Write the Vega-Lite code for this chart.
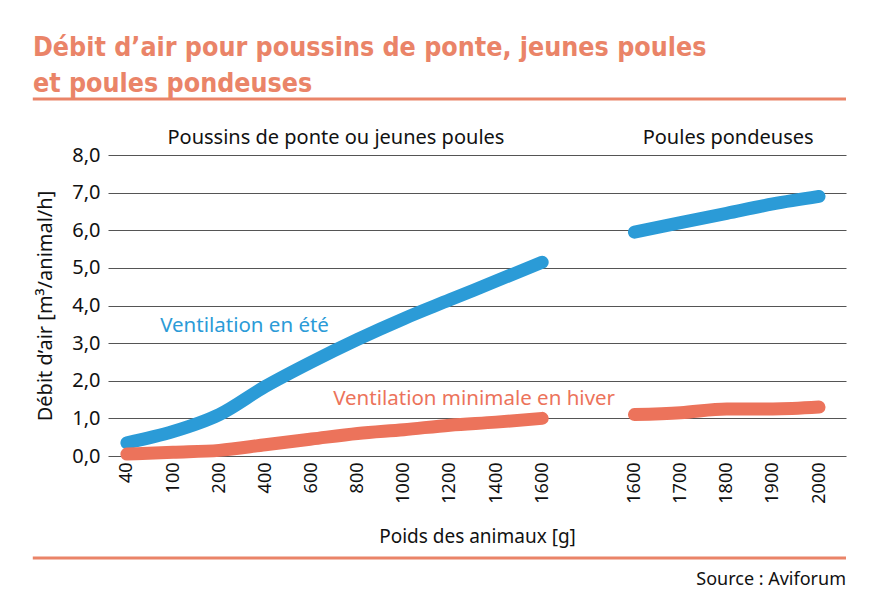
{
  "$schema": "https://vega.github.io/schema/vega-lite/v6.json",
  "autosize": {"type": "none"},
  "padding": {"left": 108, "top": 155, "right": 34, "bottom": 152},
  "width": 738,
  "height": 301,
  "background": "white",
  "config": {"view": {"stroke": null}, "font": "Noto Sans", "axisY": {"labelOverlap": false}},
  "title": {
    "text": ["Débit d’air pour poussins de ponte, jeunes poules", "et poules pondeuses"],
    "anchor": "start",
    "frame": "group",
    "orient": "top",
    "dx": -75,
    "offset": 0,
    "font": "DejaVu Sans Condensed",
    "fontWeight": "bold",
    "fontSize": 26.6,
    "lineHeight": 36,
    "color": "#ea8468"
  },
  "datasets": {
    "lines": [
      {"serie": "ete", "segment": "ete1", "pos": 0, "poids": "40", "debit": 0.35},
      {"serie": "ete", "segment": "ete1", "pos": 1, "poids": "100", "debit": 0.65},
      {"serie": "ete", "segment": "ete1", "pos": 2, "poids": "200", "debit": 1.1},
      {"serie": "ete", "segment": "ete1", "pos": 3, "poids": "400", "debit": 1.85},
      {"serie": "ete", "segment": "ete1", "pos": 4, "poids": "600", "debit": 2.5},
      {"serie": "ete", "segment": "ete1", "pos": 5, "poids": "800", "debit": 3.1},
      {"serie": "ete", "segment": "ete1", "pos": 6, "poids": "1000", "debit": 3.65},
      {"serie": "ete", "segment": "ete1", "pos": 7, "poids": "1200", "debit": 4.15},
      {"serie": "ete", "segment": "ete1", "pos": 8, "poids": "1400", "debit": 4.65},
      {"serie": "ete", "segment": "ete1", "pos": 9, "poids": "1600", "debit": 5.15},
      {"serie": "ete", "segment": "ete2", "pos": 11, "poids": "1600", "debit": 5.95},
      {"serie": "ete", "segment": "ete2", "pos": 12, "poids": "1700", "debit": 6.2},
      {"serie": "ete", "segment": "ete2", "pos": 13, "poids": "1800", "debit": 6.45},
      {"serie": "ete", "segment": "ete2", "pos": 14, "poids": "1900", "debit": 6.7},
      {"serie": "ete", "segment": "ete2", "pos": 15, "poids": "2000", "debit": 6.9},
      {"serie": "hiver", "segment": "hiver1", "pos": 0, "poids": "40", "debit": 0.05},
      {"serie": "hiver", "segment": "hiver1", "pos": 1, "poids": "100", "debit": 0.1},
      {"serie": "hiver", "segment": "hiver1", "pos": 2, "poids": "200", "debit": 0.15},
      {"serie": "hiver", "segment": "hiver1", "pos": 3, "poids": "400", "debit": 0.3},
      {"serie": "hiver", "segment": "hiver1", "pos": 4, "poids": "600", "debit": 0.45},
      {"serie": "hiver", "segment": "hiver1", "pos": 5, "poids": "800", "debit": 0.6},
      {"serie": "hiver", "segment": "hiver1", "pos": 6, "poids": "1000", "debit": 0.7},
      {"serie": "hiver", "segment": "hiver1", "pos": 7, "poids": "1200", "debit": 0.82},
      {"serie": "hiver", "segment": "hiver1", "pos": 8, "poids": "1400", "debit": 0.9},
      {"serie": "hiver", "segment": "hiver1", "pos": 9, "poids": "1600", "debit": 1.0},
      {"serie": "hiver", "segment": "hiver2", "pos": 11, "poids": "1600", "debit": 1.1},
      {"serie": "hiver", "segment": "hiver2", "pos": 12, "poids": "1700", "debit": 1.15},
      {"serie": "hiver", "segment": "hiver2", "pos": 13, "poids": "1800", "debit": 1.25},
      {"serie": "hiver", "segment": "hiver2", "pos": 14, "poids": "1900", "debit": 1.25},
      {"serie": "hiver", "segment": "hiver2", "pos": 15, "poids": "2000", "debit": 1.3}
    ],
    "labels": [
      {"texte": "Ventilation en été", "pos": 0.72, "debit": 3.46, "couleur": "ete"},
      {"texte": "Ventilation minimale en hiver", "pos": 4.47, "debit": 1.52, "couleur": "hiver"}
    ],
    "groupes": [
      {"texte": "Poussins de ponte ou jeunes poules", "pos": 4.53, "debit": 8.46},
      {"texte": "Poules pondeuses", "pos": 13.03, "debit": 8.46}
    ],
    "source": [
      {"texte": "Source : Aviforum", "pos": 15.585, "debit": -3.3}
    ],
    "regles": [
      {"debit": 9.49, "pos": -2.04, "pos2": 15.585},
      {"debit": -2.71, "pos": -2.04, "pos2": 15.585}
    ]
  },
  "encoding": {
    "x": {
      "field": "pos", "type": "quantitative",
      "scale": {"domain": [-0.41, 15.585], "nice": false, "zero": false},
      "axis": {
        "values": [0, 1, 2, 3, 4, 5, 6, 7, 8, 9, 11, 12, 13, 14, 15],
        "labelExpr": "['40','100','200','400','600','800','1000','1200','1400','1600','','1600','1700','1800','1900','2000'][datum.value]",
        "labelAngle": -90,
        "labelFontSize": 18,
        "labelColor": "#111",
        "labelPadding": 6,
        "labelOverlap": false,
        "grid": false,
        "ticks": false,
        "domain": false,
        "title": "Poids des animaux [g]",
        "titleFontSize": 19,
        "titleFontWeight": "normal",
        "titleColor": "#111",
        "titlePadding": 24
      }
    },
    "y": {
      "field": "debit", "type": "quantitative",
      "scale": {"domain": [0, 8], "nice": false},
      "axis": {
        "values": [0, 1, 2, 3, 4, 5, 6, 7, 8],
        "labelExpr": "replace(format(datum.value, '.1f'), '.', ',')",
        "labelFontSize": 20,
        "labelColor": "#111",
        "labelPadding": 8,
        "labelOverlap": false,
        "grid": true,
        "gridColor": "#555",
        "gridWidth": 1,
        "gridOpacity": 1,
        "ticks": false,
        "domain": false,
        "title": "Débit d’air [m³/animal/h]",
        "titleFontSize": 20,
        "titleFontWeight": "normal",
        "titleColor": "#111",
        "titlePadding": 16
      }
    }
  },
  "layer": [
    {
      "data": {"name": "lines"},
      "mark": {"type": "line", "strokeWidth": 13, "strokeCap": "round", "strokeJoin": "round", "interpolate": "monotone", "clip": false},
      "encoding": {
        "color": {"field": "serie", "type": "nominal", "scale": {"domain": ["ete", "hiver"], "range": ["#2b9bd7", "#ec735b"]}, "legend": null},
        "detail": {"field": "segment"}
      }
    },
    {
      "data": {"name": "labels"},
      "mark": {"type": "text", "align": "left", "baseline": "middle", "fontSize": 20.5, "font": "Noto Sans"},
      "encoding": {
        "text": {"field": "texte"},
        "color": {"field": "couleur", "type": "nominal", "scale": {"domain": ["ete", "hiver"], "range": ["#2b9bd7", "#ec735b"]}, "legend": null}
      }
    },
    {
      "data": {"name": "groupes"},
      "mark": {"type": "text", "align": "center", "baseline": "middle", "fontSize": 20, "font": "Noto Sans", "color": "#111"},
      "encoding": {
        "text": {"field": "texte"}
      }
    },
    {
      "data": {"name": "source"},
      "mark": {"type": "text", "align": "right", "baseline": "middle", "fontSize": 18, "font": "Noto Sans", "color": "#111"},
      "encoding": {
        "text": {"field": "texte"}
      }
    },
    {
      "data": {"name": "regles"},
      "mark": {"type": "rule", "color": "#ea8468", "strokeWidth": 3},
      "encoding": {
        "x2": {"field": "pos2"}
      }
    }
  ]
}
